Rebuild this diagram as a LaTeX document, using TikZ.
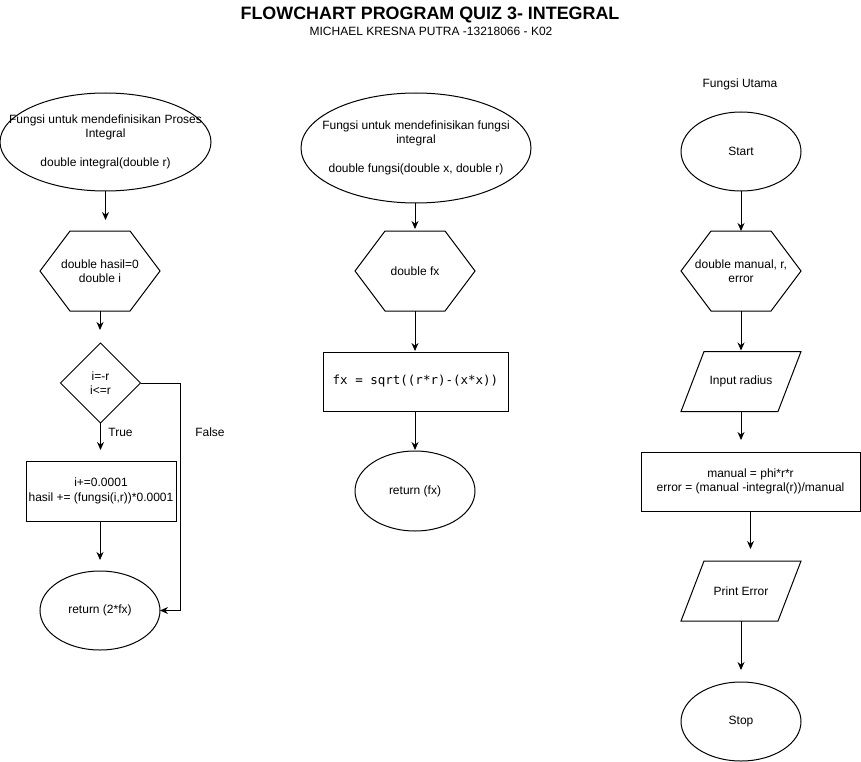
\documentclass[tikz,border=0pt]{standalone}
\usepackage{fontspec}
\setmainfont{Liberation Sans}
\setmonofont{DejaVu Sans Mono}
\usetikzlibrary{arrows.meta,shapes.geometric,calc}
\newcommand\myhexa[1]{\draw[outline] (#1.west) -- ([xshift=30pt]#1.north west) -- ([xshift=-30pt]#1.north east) -- (#1.east) -- ([xshift=-30pt]#1.south east) -- ([xshift=30pt]#1.south west) -- cycle;}
\newcommand\mypara[1]{\draw[outline] ([xshift=23pt]#1.north west) -- (#1.north east) -- ([xshift=-23pt]#1.south east) -- (#1.south west) -- cycle;}
\begin{document}
\begin{tikzpicture}[x=1pt,y=-1pt,
  every node/.style={font=\fontsize{12}{14.5}\selectfont, align=center, inner sep=0pt, outer sep=0pt},
  ell/.style={draw, ellipse, line width=1pt},
  box/.style={draw, rectangle, line width=1pt},
  blank/.style={rectangle, draw=none},
  dia/.style={draw, diamond, aspect=1, line width=1pt},
  outline/.style={line width=1pt, line join=miter},
  arr/.style={-{Stealth[length=8pt,width=7pt]}, line width=1pt},
  plain/.style={draw=none}]
\useasboundingbox (0,0) rectangle (861,762);

% titles
\node[plain] (title) at (430,15) {\fontsize{17.9}{20}\selectfont\bfseries FLOWCHART PROGRAM QUIZ 3- INTEGRAL};
\node[plain] (sub) at (431,31) {MICHAEL KRESNA PUTRA -13218066 - K02};

% left column
\node[ell, minimum width=211pt, minimum height=98pt,
  label={center:{Fungsi untuk mendefinisikan Proses\\Integral\\[14.5pt]double integral(double r)}}] (E1) at (105.5,142) {};
\node[blank, minimum width=120pt, minimum height=80pt] (H1) at (100,271) {double hasil=0\\double i};
\myhexa{H1}
\node[dia, minimum width=80pt, minimum height=80pt] (D1) at (100.5,383) {i=-r\\i<=r};
\node[box, minimum width=150pt, minimum height=60pt] (R1) at (101,491) {i+=0.0001\\hasil += (fungsi(i,r))*0.0001};
\node[ell, minimum width=120pt, minimum height=79pt] (E2) at (100,610.5) {return (2*fx)};
\node[plain] (true) at (120.5,432) {True};
\node[plain] (false) at (210,432) {False};

\draw[arr, shorten >=11pt] (E1.south) -- (E1.south |- H1.north);
\draw[arr, shorten >=13pt] (H1.south) -- (H1.south |- D1.north);
\draw[arr, shorten >=11pt] (D1.south) -- (D1.south |- R1.north);
\draw[arr, shorten >=11pt] (R1.south -| E2.north) -- (E2.north);
\draw[arr] (D1.east) -- ++(40,0) |- (E2.east);

% middle column
\node[ell, minimum width=230pt, minimum height=110pt,
  label={center:{Fungsi untuk mendefinisikan fungsi\\integral\\[14.5pt]double fungsi(double x, double r)}}] (E3) at (416,148) {};
\node[blank, minimum width=120pt, minimum height=80pt] (H2) at (415,271) {double fx};
\myhexa{H2}
\node[box, minimum width=185pt, minimum height=59pt] (R2) at (415.5,381.5) {\fontsize{12.5}{14}\selectfont\ttfamily fx = sqrt((r*r)-(x*x))};
\node[ell, minimum width=120pt, minimum height=80pt] (E4) at (415,491) {return (fx)};

\draw[arr, shorten >=2pt] (E3.south -| H2.north) -- (H2.north);
\draw[arr, shorten >=1pt] (H2.south) -- (H2.south |- R2.north);
\draw[arr, shorten >=1pt] (R2.south -| E4.north) -- (E4.north);

% right column
\node[plain] (utama) at (740,84) {Fungsi Utama};
\node[ell, minimum width=120pt, minimum height=79pt] (start) at (741,151.5) {Start};
\node[blank, minimum width=120pt, minimum height=80pt] (H3) at (741,271) {double manual, r,\\error};
\myhexa{H3}
\node[blank, minimum width=120pt, minimum height=60pt] (P1) at (741,381.5) {Input radius};
\mypara{P1}
\node[box, minimum width=219pt, minimum height=59pt] (R3) at (750.5,481.5) {manual = phi*r*r\\error = (manual -integral(r))/manual};
\node[blank, minimum width=120pt, minimum height=60pt] (P2) at (741,591) {Print Error};
\mypara{P2}
\node[ell, minimum width=120pt, minimum height=79pt] (stop) at (741,721.5) {Stop};

\draw[arr] (start.south) -- (H3.north);
\draw[arr, shorten >=1pt] (H3.south) -- (P1.north);
\draw[arr, shorten >=12pt] (P1.south) -- (P1.south |- R3.north);
\draw[arr, shorten >=12pt] (R3.south) -- (R3.south |- P2.north);
\draw[arr, shorten >=12pt] (P2.south) -- (stop.north);
\end{tikzpicture}
\end{document}
